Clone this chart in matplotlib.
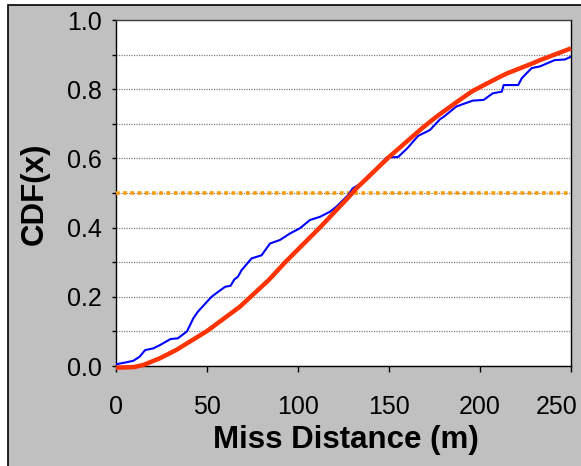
import matplotlib.pyplot as plt
from matplotlib.patches import Rectangle
from matplotlib.transforms import ScaledTranslation

plt.rcParams['font.family'] = ['Liberation Sans', 'DejaVu Sans']

# empirical CDF of miss distance
dist_emp = [0, 5, 9.5, 13, 16, 20.5, 24, 30, 34, 39, 42.5, 45, 49, 52.5, 55, 60, 63,
            65, 67, 69, 74.5, 80, 84.6, 90, 95.6, 101, 106.6, 112, 117.6, 121, 127.6,
            130, 137.7, 145, 148.7, 155, 160, 166, 172.5, 178, 180, 187, 196, 202,
            207, 212, 213, 221, 223, 228.4, 233, 241, 246.7, 250]
cdf_emp = [0.005, 0.01, 0.015, 0.027, 0.046, 0.051, 0.06, 0.078, 0.08, 0.10, 0.138,
           0.157, 0.18, 0.20, 0.21, 0.229, 0.232, 0.25, 0.258, 0.277, 0.311, 0.32,
           0.354, 0.364, 0.383, 0.398, 0.422, 0.431, 0.446, 0.46, 0.494, 0.513,
           0.538, 0.581, 0.603, 0.604, 0.629, 0.665, 0.682, 0.713, 0.72, 0.75,
           0.767, 0.769, 0.788, 0.793, 0.812, 0.812, 0.832, 0.861, 0.866, 0.884,
           0.886, 0.894]

# fitted distribution
dist_fit = [0, 10, 15, 24, 33, 50, 68, 75, 84, 93, 100, 112, 128, 132, 150, 167,
            174, 178, 188, 196, 211, 215, 229, 233, 250]
cdf_fit = [-0.005, -0.003, 0.003, 0.022, 0.046, 0.101, 0.171, 0.205, 0.249, 0.30,
           0.337, 0.40, 0.489, 0.513, 0.604, 0.682, 0.712, 0.728, 0.766, 0.795,
           0.836, 0.846, 0.875, 0.884, 0.918]

median_level = 0.5

fig = plt.figure(figsize=(5.81, 4.66), dpi=100, facecolor='white')
fig.patches.append(Rectangle((8/581, -0.1), 1.1, (461/466) + 0.1,
                             transform=fig.transFigure, facecolor='#c0c0c0',
                             edgecolor='black', linewidth=1.2, zorder=-10))

ax = fig.add_axes([116/581, 100/466, 455/581, 346/466])
ax.set_facecolor('white')

ax.plot([0, 250], [median_level, median_level], color='#ff9900', linewidth=2.6,
        linestyle=(0, (1, 1)), zorder=3)
ax.plot(dist_emp, cdf_emp, color='#0000ff', linewidth=1.5, zorder=4)
ax.plot(dist_fit, cdf_fit, color='#ff3300', linewidth=3.2, zorder=5,
        solid_capstyle='butt', solid_joinstyle='round', clip_on=False)

ax.set_xlim(0, 250)
ax.set_ylim(0, 1.0)
ax.set_xticks(range(0, 251, 50))
ax.set_yticks([i/10 for i in range(11)])
ax.set_yticklabels(['%.1f' % (i/10) if i % 2 == 0 else '' for i in range(11)])
ax.yaxis.grid(True, color='#808080', linestyle=(0, (1, 1)), linewidth=0.9)
ax.set_axisbelow(True)

ax.tick_params(axis='both', labelsize=18, colors='black', direction='out')
ax.tick_params(axis='y', length=3, width=1, pad=7)
ax.tick_params(axis='x', length=4, width=1, pad=17)
for s in ax.spines.values():
    s.set_color('black')
    s.set_linewidth(1)
ax.spines['top'].set_color('#404040')

# pull the last x label inside the frame
last = ax.get_xticklabels()[-1]
last.set_transform(last.get_transform() + ScaledTranslation(-14/100, 0, fig.dpi_scale_trans))

fig.text(35/581, 1 - 194/466, 'CDF(x)', rotation=90, ha='center', va='center',
         fontsize=22.5, fontweight='bold')
fig.text(346/581, 1 - 440/466, 'Miss Distance (m)', ha='center', va='center',
         fontsize=22.5, fontweight='bold')

fig.savefig('out.png', dpi=100)
